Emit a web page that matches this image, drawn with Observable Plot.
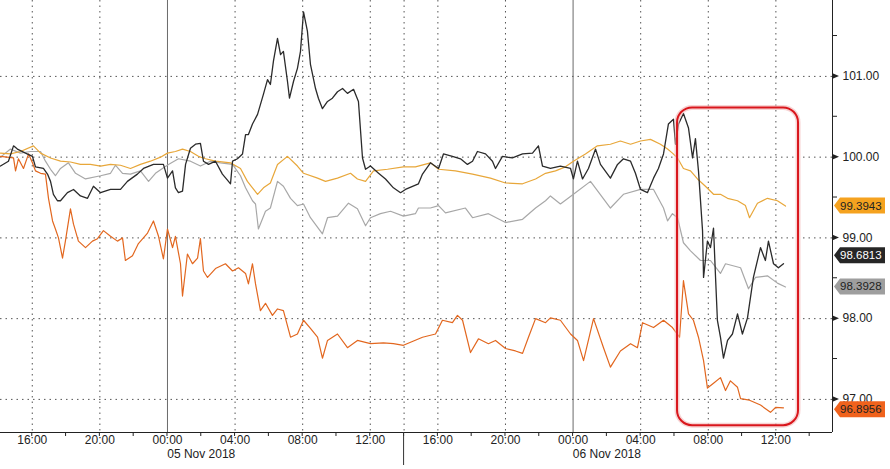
<!DOCTYPE html>
<html>
<head>
<meta charset="utf-8">
<script src="https://cdn.jsdelivr.net/npm/d3@7"></script>
<script src="https://cdn.jsdelivr.net/npm/@observablehq/plot@0.6"></script>
<style>
  html, body { margin: 0; padding: 0; background: #fff; }
  #chart svg { display: block; }
</style>
</head>
<body>
<div id="chart"></div>
<script>
// Hours are measured from 00:00, 05 Nov 2018.
const goldSeries = [
  [-9.88,100.05],[-9.29,100.04],[-8.70,100.07],[-7.93,100.14],[-7.51,100.05],[-6.92,99.99],[-6.33,99.95],
  [-5.74,99.94],[-5.15,99.91],[-4.56,99.91],[-3.96,99.89],[-3.37,99.91],[-2.78,99.90],[-2.19,99.86],
  [-1.60,99.91],[-1.01,99.95],[-0.41,100.00],[0,100.05],[0.47,100.07],[0.89,100.10],[1.36,100.07],
  [1.83,100.01],[2.25,99.98],[2.84,99.95],[3.73,99.93],[4.32,99.86],[4.73,99.70],[5.03,99.62],
  [5.33,99.54],[5.68,99.62],[6.09,99.68],[6.51,99.91],[7.10,100.01],[7.69,99.89],[8.05,99.80],
  [8.88,99.74],[9.35,99.70],[10.06,99.74],[10.83,99.80],[11.24,99.73],[11.72,99.70],[12.19,99.83],
  [13.02,99.85],[13.96,99.88],[14.67,99.88],[15.56,99.93],[16.04,99.85],[17.04,99.83],[18.05,99.79],
  [19.11,99.74],[20.00,99.68],[21.01,99.67],[21.78,99.73],[22.37,99.80],[22.96,99.83],[23.55,99.88],
  [24.02,99.95],[24.73,100.04],[25.44,100.14],[26.21,100.16],[26.80,100.20],[27.40,100.16],[27.99,100.20],
  [28.58,100.22],[29.17,100.16],[29.59,100.10],[29.88,100.05],[30.18,99.99],[30.53,99.86],[30.95,99.83],
  [31.36,99.73],[31.83,99.64],[32.31,99.54],[32.72,99.54],[33.14,99.49],[33.73,99.46],[34.20,99.40],
  [34.44,99.25],[34.91,99.43],[35.50,99.49],[36.09,99.46],[36.57,99.3943]
];
const graySeries = [
  [-9.88,100.00],[-9.29,100.10],[-8.70,100.05],[-8.11,100.07],[-7.51,100.07],[-7.22,99.95],[-6.92,99.85],
  [-6.63,99.77],[-6.33,99.86],[-5.86,99.93],[-5.44,99.80],[-4.85,99.73],[-3.96,99.77],[-3.37,99.80],
  [-3.08,99.90],[-2.66,99.80],[-2.19,99.79],[-1.60,99.83],[-1.12,99.70],[-0.71,99.80],[-0.30,99.86],
  [0.06,99.91],[0.65,99.98],[1.36,99.95],[1.95,99.89],[2.54,99.95],[3.14,99.93],[3.85,99.91],
  [4.32,99.77],[4.62,99.62],[5.03,99.46],[5.21,99.42],[5.38,99.11],[5.80,99.33],[6.09,99.37],
  [6.51,99.70],[6.86,99.64],[7.28,99.49],[7.69,99.40],[8.05,99.42],[8.46,99.25],[9.17,99.05],
  [9.47,99.25],[10.06,99.27],[10.71,99.43],[11.24,99.36],[11.72,99.15],[12.01,99.25],[12.60,99.30],
  [13.20,99.33],[13.96,99.27],[14.67,99.30],[14.85,99.37],[15.56,99.37],[16.04,99.40],[16.45,99.31],
  [17.63,99.37],[18.05,99.25],[18.99,99.30],[20.00,99.19],[21.01,99.23],[21.78,99.37],[22.37,99.46],
  [22.66,99.52],[23.25,99.42],[24.02,99.54],[25.03,99.70],[26.21,99.37],[26.98,99.54],[27.99,99.60],
  [28.76,99.60],[29.35,99.37],[29.59,99.21],[29.88,99.30],[30.18,99.25],[30.53,98.94],[30.95,98.84],
  [31.54,98.72],[32.13,98.72],[32.72,98.56],[33.02,98.68],[33.91,98.63],[34.38,98.37],[34.79,98.51],
  [35.50,98.53],[36.09,98.44],[36.57,98.3928]
];
const blackSeries = [
  [-9.88,99.89],[-9.41,99.95],[-9.11,100.14],[-8.88,100.10],[-8.40,100.05],[-7.99,100.01],[-7.81,99.88],
  [-7.34,99.86],[-7.10,99.79],[-6.92,99.70],[-6.75,99.54],[-6.51,99.46],[-6.33,99.46],[-5.92,99.56],
  [-5.56,99.60],[-5.15,99.52],[-4.73,99.49],[-4.38,99.64],[-3.96,99.56],[-3.37,99.60],[-2.78,99.60],
  [-2.37,99.70],[-1.78,99.79],[-1.42,99.86],[-0.83,99.91],[-0.41,99.91],[-0.24,99.91],[0,99.74],
  [0.30,99.83],[0.47,99.62],[0.65,99.56],[0.89,99.58],[1.07,99.91],[1.36,100.11],[1.66,100.16],
  [1.95,100.17],[2.13,99.95],[2.43,99.91],[2.84,99.95],[3.25,99.79],[3.61,99.70],[3.73,99.67],
  [3.85,99.95],[4.14,99.98],[4.44,100.04],[4.62,100.28],[4.79,100.28],[5.03,100.41],[5.33,100.53],
  [5.68,100.78],[5.92,100.96],[6.09,100.90],[6.27,101.19],[6.51,101.47],[6.69,101.27],[6.86,101.31],
  [7.10,100.94],[7.22,100.73],[7.46,100.94],[7.69,101.10],[7.87,101.31],[8.05,101.80],[8.28,101.56],
  [8.46,101.15],[8.76,100.85],[8.93,100.73],[9.17,100.60],[9.47,100.69],[9.76,100.73],[10.06,100.81],
  [10.36,100.85],[10.65,100.79],[11.01,100.84],[11.30,100.69],[11.54,99.99],[11.72,99.85],[12.01,99.89],
  [12.49,99.80],[12.90,99.73],[13.37,99.62],[13.79,99.56],[14.08,99.60],[14.85,99.67],[15.09,99.79],
  [15.56,99.93],[16.04,99.86],[16.33,100.04],[16.86,100.01],[17.34,99.98],[17.75,99.91],[18.05,99.95],
  [18.34,100.07],[18.82,100.04],[19.23,99.95],[19.41,99.86],[19.82,100.01],[20.41,99.99],[21.01,100.04],
  [21.60,100.05],[21.95,100.14],[22.19,99.89],[22.66,99.86],[23.25,99.89],[23.85,99.86],[24.02,99.73],
  [24.26,99.95],[24.56,99.73],[24.91,99.86],[25.33,100.10],[25.62,99.91],[26.21,99.74],[26.63,99.91],
  [26.98,99.98],[27.40,99.95],[27.69,99.80],[27.99,99.60],[28.40,99.56],[28.76,99.74],[29.05,99.86],
  [29.35,100.04],[29.64,100.41],[29.94,100.47],[30.06,100.16],[30.24,100.41],[30.53,100.54],[30.83,100.36],
  [31.07,99.99],[31.24,100.23],[31.42,99.83],[31.66,99.09],[31.72,98.51],[31.95,98.96],[32.13,98.88],
  [32.31,99.12],[32.43,98.51],[32.54,97.98],[32.72,97.77],[32.90,97.51],[33.14,97.73],[33.43,97.81],
  [33.73,98.06],[34.02,97.81],[34.32,98.01],[34.67,98.51],[35.09,98.88],[35.38,98.72],[35.56,98.96],
  [35.86,98.68],[36.15,98.63],[36.45,98.6813]
];
const orangeSeries = [
  [-9.88,100.01],[-9.11,99.99],[-8.99,99.83],[-8.82,99.98],[-8.52,99.86],[-8.22,100.04],[-7.99,99.93],
  [-7.81,99.83],[-7.51,99.80],[-7.22,99.79],[-7.04,99.49],[-6.80,99.21],[-6.63,99.11],[-6.45,99.00],
  [-6.21,98.75],[-6.04,98.96],[-5.74,99.36],[-5.56,99.17],[-5.27,98.96],[-4.85,98.88],[-4.44,98.96],
  [-4.14,98.99],[-3.79,99.09],[-3.37,99.02],[-2.96,98.96],[-2.66,99.00],[-2.49,98.72],[-2.07,98.78],
  [-1.72,98.93],[-1.18,99.06],[-0.83,99.21],[-0.53,99.02],[-0.24,98.74],[0,99.11],[0.30,98.88],
  [0.47,99.02],[0.77,98.68],[0.89,98.28],[1.18,98.80],[1.48,98.68],[1.78,98.75],[1.95,98.99],
  [2.13,98.59],[2.37,98.51],[2.84,98.62],[3.43,98.68],[3.85,98.59],[4.20,98.63],[4.62,98.56],
  [4.79,98.43],[5.03,98.68],[5.21,98.43],[5.50,98.10],[5.80,98.19],[6.21,98.04],[6.51,98.12],
  [6.86,98.10],[7.28,97.77],[7.69,97.81],[8.05,97.98],[8.46,97.88],[8.88,97.77],[9.17,97.51],
  [9.47,97.73],[10.06,97.81],[10.65,97.64],[11.24,97.73],[12.01,97.69],[12.78,97.70],[13.37,97.69],
  [13.96,97.67],[15.09,97.77],[15.86,97.81],[16.27,97.98],[16.86,97.95],[17.16,98.04],[17.46,97.98],
  [17.93,97.58],[18.40,97.75],[18.99,97.69],[19.41,97.73],[20.00,97.63],[20.59,97.60],[21.01,97.57],
  [21.36,97.77],[21.78,98.00],[22.37,97.95],[22.66,98.01],[23.25,97.98],[23.85,97.81],[24.26,97.73],
  [24.62,97.48],[25.21,98.00],[25.80,97.64],[26.21,97.40],[26.80,97.60],[27.40,97.69],[27.81,97.64],
  [28.11,97.95],[28.76,97.89],[29.35,97.98],[29.88,97.89],[30.30,97.77],[30.53,98.47],[30.83,98.06],
  [31.12,97.98],[31.42,97.77],[31.72,97.48],[31.95,97.14],[32.31,97.20],[32.72,97.27],[33.02,97.11],
  [33.31,97.23],[33.73,97.15],[33.91,97.01],[34.44,96.99],[35.09,96.93],[35.68,96.84],[35.98,96.90],
  [36.45,96.8956]
];

// Axis ticks and labels
const yTicks = [97, 98, 99, 100, 101];
const yMinorTicks = [97.5, 98.5, 99.5, 100.5, 101.5];
const xLabelHours = [-8, -4, 0, 4, 8, 12, 16, 20, 24, 28, 32, 36];
const xLabels = ["16:00","20:00","00:00","04:00","08:00","12:00","16:00","20:00","00:00","04:00","08:00","12:00"];
const xTickHours = [-10,-8,-6,-4,-2,0,2,4,6,8,10,12,14,16,18,20,22,24,26,28,30,32,34,36,38];
const dateLabelHours = [2, 26];
const dateLabels = ["05 Nov 2018", "06 Nov 2018"];
const dayBreakHours = [0, 24];
const dottedGridHours = [-8, -4, 4, 8, 12, 14, 16, 20, 28, 32, 36];
const sessionMarkHour = 14;
const lastValues = [99.3943, 98.6813, 98.3928, 96.8956];
const lastLabels = ["99.3943", "98.6813", "98.3928", "96.8956"];
const highlightHours = [30.18, 37.34];
const highlightValues = [96.675, 100.61];

const xDomainHours = [-9.88, 39.35];
const yDomain = [96.59, 101.94];

const base = Date.UTC(2018, 10, 5, 0, 0);
const T = h => new Date(base + h * 3600e3);

const colors = {gold: "#e8a73a", gray: "#a8a8a8", black: "#2b2b2b", orange: "#e2671f"};
const tagFill = ["#f5a21f", "#262626", "#9e9e9e", "#f0621c"];
const tagText = ["#222", "#fff", "#222", "#222"];
const tagDy = [0, -8, 0, 2];

const dotted = "1.5,4";
const font = "'Liberation Sans', Arial, sans-serif";

const plot = Plot.plot({
  width: 890,
  height: 469,
  marginLeft: 0,
  marginRight: 58,
  marginTop: 0,
  marginBottom: 37,
  style: {fontFamily: font, fontSize: "12px", color: "#222", background: "#fff", overflow: "visible"},
  x: {type: "utc", domain: [T(xDomainHours[0]), T(xDomainHours[1])], axis: null},
  y: {domain: yDomain, axis: null},
  marks: [
    Plot.ruleY(yTicks, {y: d => d, stroke: "#555", strokeDasharray: dotted, strokeWidth: 1}),
    Plot.ruleX(dottedGridHours, {x: d => T(d), stroke: "#555", strokeDasharray: dotted, strokeWidth: 1}),
    Plot.ruleX(dayBreakHours, {x: d => T(d), stroke: "#6a6a6a", strokeWidth: 1}),
    Plot.line(graySeries, {x: d => T(d[0]), y: d => d[1], stroke: colors.gray, strokeWidth: 1.2}),
    Plot.line(orangeSeries, {x: d => T(d[0]), y: d => d[1], stroke: colors.orange, strokeWidth: 1.2}),
    Plot.line(goldSeries, {x: d => T(d[0]), y: d => d[1], stroke: colors.gold, strokeWidth: 1.2}),
    Plot.line(blackSeries, {x: d => T(d[0]), y: d => d[1], stroke: colors.black, strokeWidth: 1.3}),
    Plot.ruleY([yDomain[0]], {stroke: "#222", strokeWidth: 1}),
    Plot.ruleX([T(xDomainHours[1])], {stroke: "#222", strokeWidth: 1}),
    Plot.text(yTicks, {y: d => d, text: d => d3.format(".2f")(d), frameAnchor: "right", dx: 10, textAnchor: "start", fill: "#222", fontSize: 12}),
    Plot.text(xLabelHours, {x: d => T(d), text: (d, i) => xLabels[i], frameAnchor: "bottom", dy: 11, fill: "#222", fontSize: 12}),
    Plot.text(dateLabelHours, {x: d => T(d), text: (d, i) => dateLabels[i], frameAnchor: "bottom", dy: 25, fill: "#222", fontSize: 12})
  ]
});
document.getElementById("chart").append(plot);

// Extra ornaments positioned with the plot's own scales
const svgNode = plot.tagName.toLowerCase() === "svg" ? plot : plot.querySelector("svg");
const svg = d3.select(svgNode);
const xs = plot.scale("x"), ys = plot.scale("y");
const X = h => xs.apply(T(h));
const Y = v => ys.apply(v);
const xRight = X(xDomainHours[1]);
const yBottom = Y(yDomain[0]);

const g = svg.append("g").attr("text-anchor", "start");
// bottom axis ticks
xTickHours.forEach(h => {
  g.append("line").attr("x1", X(h)).attr("x2", X(h)).attr("y1", yBottom).attr("y2", yBottom + 4)
    .attr("stroke", "#222").attr("stroke-width", 1);
});
// session marker below the axis
g.append("line").attr("x1", X(sessionMarkHour)).attr("x2", X(sessionMarkHour))
  .attr("y1", yBottom).attr("y2", yBottom + 33).attr("stroke", "#333").attr("stroke-width", 1);
// y minor ticks
yMinorTicks.forEach(v => {
  g.append("line").attr("x1", xRight).attr("x2", xRight + 5).attr("y1", Y(v)).attr("y2", Y(v))
    .attr("stroke", "#222").attr("stroke-width", 1);
});
// y major tick triangles
yTicks.forEach(v => {
  const y = Y(v);
  g.append("path").attr("d", `M${xRight},${y - 3}L${xRight + 7},${y}L${xRight},${y + 3}Z`).attr("fill", "#222");
});
// highlight box
const hx1 = X(highlightHours[0]), hx2 = X(highlightHours[1]);
const hy1 = Y(highlightValues[1]), hy2 = Y(highlightValues[0]);
g.append("rect").attr("x", hx1).attr("y", hy1).attr("width", hx2 - hx1).attr("height", hy2 - hy1)
  .attr("rx", 15).attr("ry", 15).attr("fill", "none").attr("stroke", "#f2b7b7").attr("stroke-width", 5).attr("opacity", 0.6);
g.append("rect").attr("x", hx1).attr("y", hy1).attr("width", hx2 - hx1).attr("height", hy2 - hy1)
  .attr("rx", 15).attr("ry", 15).attr("fill", "none").attr("stroke", "#d9161c").attr("stroke-width", 2);
// last value tags
lastValues.forEach((v, i) => {
  const y = Y(v) + tagDy[i];
  const x0 = xRight + 2;
  g.append("path")
    .attr("d", `M${x0},${y}L${x0 + 6},${y - 8}L${x0 + 51},${y - 8}L${x0 + 51},${y + 8}L${x0 + 6},${y + 8}Z`)
    .attr("fill", tagFill[i]);
  g.append("text").attr("x", x0 + 6).attr("y", y).attr("dy", "0.35em").attr("text-anchor", "start")
    .attr("fill", tagText[i]).attr("font-family", font).attr("font-size", 11.5).text(lastLabels[i]);
});
</script>
</body>
</html>
